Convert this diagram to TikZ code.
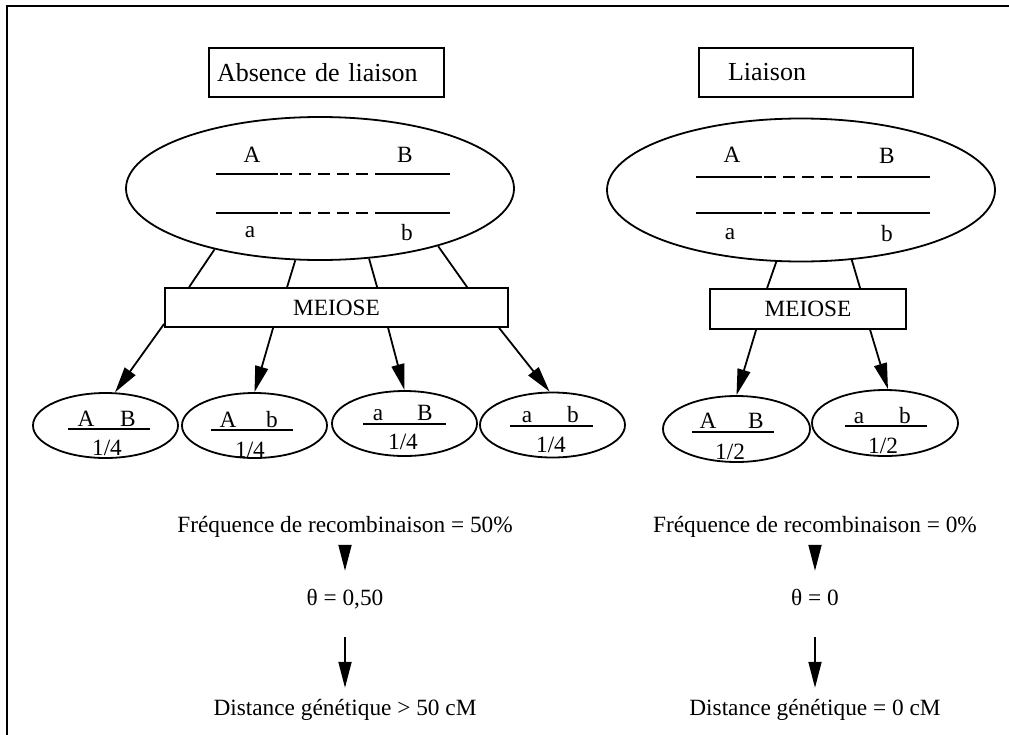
\documentclass[tikz,border=0pt]{standalone}
\usepackage{fontspec}
\setmainfont{Liberation Serif}
\usetikzlibrary{shapes.geometric,arrows.meta}
\begin{document}
\begin{tikzpicture}[x=1pt,y=-1pt,
  every node/.style={font=\fontsize{23.3}{27}\selectfont},
  titlefont/.style={font=\fontsize{26}{30}\selectfont},
  bigcell/.style={draw,ellipse,line width=1.8pt,minimum width=388pt,minimum height=143pt,inner sep=0pt},
  gamete/.style={draw,ellipse,line width=1.8pt,minimum width=145pt,minimum height=65pt,inner sep=0pt},
  lbl/.style={inner sep=0pt,anchor=base},
  titlebox/.style={draw,line width=1.8pt,align=left,minimum height=49pt,inner ysep=0pt,titlefont},
  meiobox/.style={draw,line width=1.8pt,inner sep=0pt},
  conn/.style={line width=1.8pt},
  arr/.style={line width=1.8pt,-{Triangle[length=26pt,width=13pt]}},
  chromo/.style={line width=1.8pt},
  dashseg/.style={line width=1.6pt,dash pattern=on 12pt off 7pt},
  fracline/.style={line width=1.5pt},
  txt/.style={inner sep=0pt,text height=16pt,text depth=5pt}
]
\useasboundingbox (0,0) rectangle (1009,734);
\draw[line width=1.6pt] (7,6) rectangle (1030,760);

% titles
\node[titlebox,text width=219pt,inner xsep=8pt] (tA) at (326.5,72.5) {Absence de liaison};
\node[titlebox,text width=156pt,inner xsep=29pt] (tB) at (806,72.5) {Liaison};

% big cells
\node[bigcell] (cellL) at (320,188.5) {};
\node[bigcell] (cellR) at (801,190) {};

\node[lbl] (lA) at (252,162) {A};
\node[lbl] (lB) at (405,162) {B};
\node[lbl] (la) at (250,237) {a};
\node[lbl] (lb) at (407,240) {b};
\draw[chromo] (216,174) -- (278,174);
\draw[dashseg] (280,174) -- (385,174);
\draw[chromo] (375,174) -- (450,174);
\draw[chromo] (216,213) -- (278,213);
\draw[dashseg] (280,213) -- (385,213);
\draw[chromo] (375,213) -- (450,213);

\node[lbl] (rA) at (732,162) {A};
\node[lbl] (rB) at (887,163) {B};
\node[lbl] (ra) at (730,239) {a};
\node[lbl] (rb) at (887,241) {b};
\draw[chromo] (696,177) -- (762,177);
\draw[dashseg] (764,177) -- (867,177);
\draw[chromo] (857,177) -- (930,177);
\draw[chromo] (696,213) -- (762,213);
\draw[dashseg] (764,213) -- (867,213);
\draw[chromo] (857,213) -- (930,213);

% meiose boxes
\node[meiobox,minimum width=343pt,minimum height=39pt] (meiL) at (336.5,307.5) {MEIOSE};
\node[meiobox,minimum width=196pt,minimum height=40pt] (meiR) at (808,309) {MEIOSE};

\draw[conn] (cellL.210.4) -- ([xshift=25pt]meiL.north west);
\draw[conn] (cellL.251.9) -- ([xshift=123pt]meiL.north west);
\draw[conn] (cellL.305.3) -- ([xshift=213pt]meiL.north west);
\draw[conn] (cellL.334.3) -- ([xshift=303pt]meiL.north west);
\draw[conn] (cellR.251.4) -- ([xshift=58pt]meiR.north west);
\draw[conn] (cellR.306.8) -- ([xshift=151pt]meiR.north west);

% gametes
\node[gamete] (g1) at (105.5,425.5) {};
\node[gamete] (g2) at (254.5,425.5) {};
\node[gamete] (g3) at (404.5,423.5) {};
\node[gamete] (g4) at (552.5,425) {};
\node[gamete,minimum width=147pt,minimum height=66pt] (g5) at (736.5,429) {};
\node[gamete,minimum width=146pt,minimum height=66pt] (g6) at (885,423) {};

\draw[arr] ([yshift=4pt]meiL.south west) -- (g1.74);
\draw[arr] ([xshift=109pt]meiL.south west) -- (g2.north);
\draw[arr] ([xshift=224pt]meiL.south west) -- (g3.north);
\draw[arr] ([xshift=335pt]meiL.south west) -- (g4.95);
\draw[arr] ([xshift=47pt]meiR.south west) -- (g5.north);
\draw[arr] ([xshift=161pt]meiR.south west) -- (g6.85);

% gamete contents
\node[lbl] at (86,426) {A};  \node[lbl] at (128,426) {B};
\draw[fracline] (68,429) -- (150,429);  \node[lbl] at (107,455) {1/4};
\node[lbl] at (228,427) {A};  \node[lbl] at (272,427) {b};
\draw[fracline] (211,430) -- (293,430); \node[lbl] at (250,457) {1/4};
\node[lbl] at (378,420) {a};  \node[lbl] at (425,420) {B};
\draw[fracline] (363,424) -- (446,424); \node[lbl] at (403,449) {1/4};
\node[lbl] at (527,422) {a};  \node[lbl] at (573,422) {b};
\draw[fracline] (510,426) -- (593,426); \node[lbl] at (551,452) {1/4};
\node[lbl] at (708,428) {A};  \node[lbl] at (756,428) {B};
\draw[fracline] (692,432) -- (774,432); \node[lbl] at (730,459) {1/2};
\node[lbl] at (859,423) {a};  \node[lbl] at (905,423) {b};
\draw[fracline] (845,426) -- (927,426); \node[lbl] at (883,453) {1/2};

% bottom texts
\node[txt] (freqL) at (345,527) {Fréquence de recombinaison = 50\%};
\node[txt] (thetaL) at (345,600) {θ = 0,50};
\node[txt] (distL) at (345,710) {Distance génétique > 50 cM};
\node[txt] (freqR) at (815,527) {Fréquence de recombinaison = 0\%};
\node[txt] (thetaR) at (815,600) {θ = 0};
\node[txt] (distR) at (815,710) {Distance génétique = 0 cM};

\draw[arr,shorten <=7.5pt,shorten >=18.5pt] (freqL.south) -- (thetaL.north);
\draw[arr,shorten <=26.5pt,shorten >=11.5pt] (thetaL.south) -- (distL.north);
\draw[arr,shorten <=7.5pt,shorten >=18.5pt] (freqR.south) -- (thetaR.north);
\draw[arr,shorten <=26.5pt,shorten >=11.5pt] (thetaR.south) -- (distR.north);
\end{tikzpicture}
\end{document}
